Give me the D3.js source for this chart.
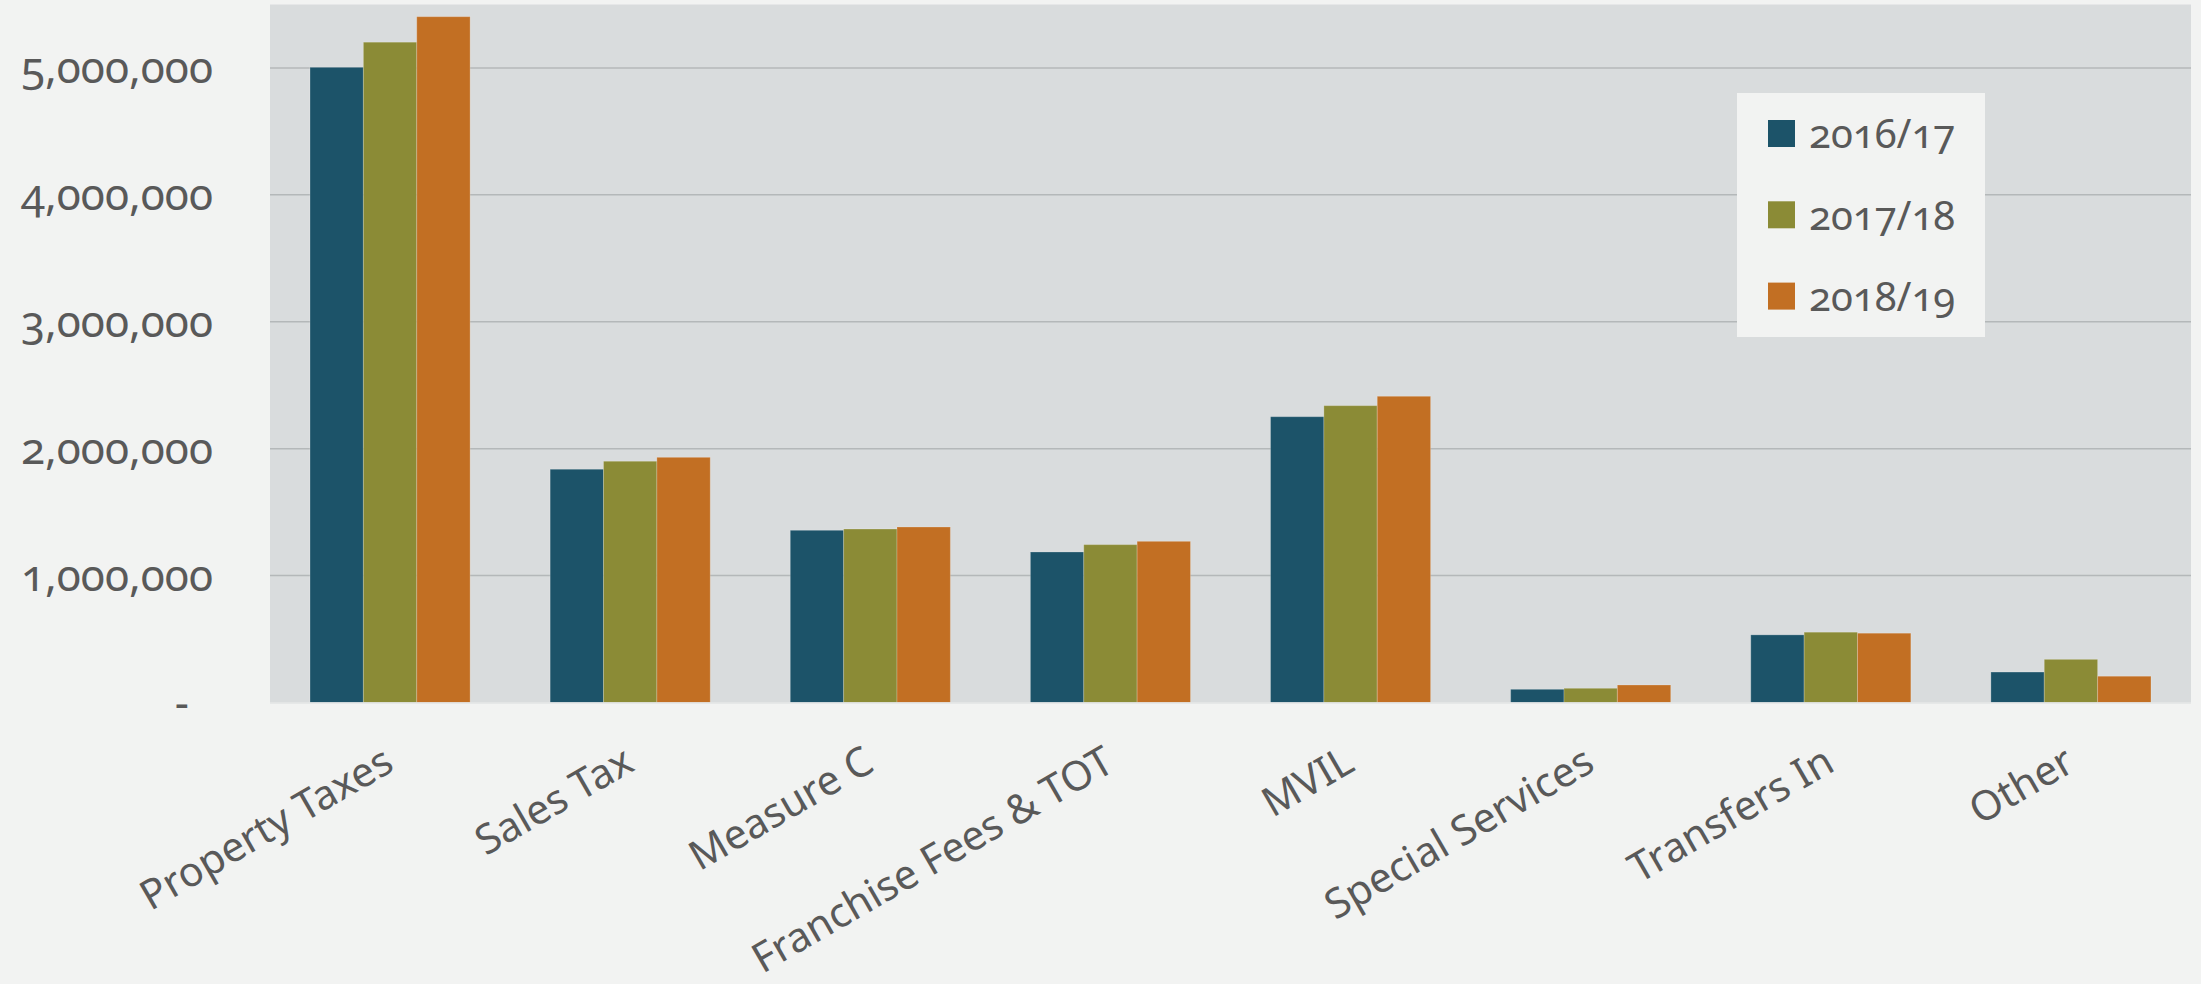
<!DOCTYPE html>
<html>
<head>
<meta charset="utf-8">
<script src="https://cdn.jsdelivr.net/npm/d3@7"></script>
<style>
  html, body { margin: 0; padding: 0; background: #f2f3f2; }
  svg { display: block; }
  text { font-family: "Noto Sans", "Open Sans", sans-serif; fill: #595959; font-variant-numeric: oldstyle-nums; }
</style>
</head>
<body>
<svg id="chart" width="2201" height="984"></svg>
<script>
// Revenue by source, three fiscal years
const categories = ["Property Taxes", "Sales Tax", "Measure C", "Franchise Fees & TOT",
                    "MVIL", "Special Services", "Transfers In", "Other"];
const seriesNames = ["2016/17", "2017/18", "2018/19"];
const fy1617 = [5005000, 1838000, 1357000, 1186000, 2252000, 104000, 533000, 240000];
const fy1718 = [5203000, 1901000, 1367000, 1244000, 2339000, 112000, 554000, 340000];
const fy1819 = [5404000, 1932000, 1383000, 1270000, 2413000, 138000, 546000, 207000];
const yTicks = [0, 1000000, 2000000, 3000000, 4000000, 5000000];
const colors = ["#1c5369", "#8b8b36", "#c26f23"];

const series = [fy1617, fy1718, fy1819];

const svg = d3.select("#chart");
const plot = { left: 270, right: 2191, top: 4.5, bottom: 702.5 };

const x = d3.scaleBand()
  .domain(categories)
  .range([plot.left, plot.right])
  .paddingInner(1 / 3)
  .paddingOuter(1 / 6);

const xSub = d3.scaleBand()
  .domain(seriesNames)
  .range([0, x.bandwidth()])
  .padding(0);

const y = d3.scaleLinear()
  .domain([0, 5500000])
  .range([plot.bottom, plot.top]);

// plot area background
svg.append("rect")
  .attr("x", plot.left)
  .attr("y", plot.top)
  .attr("width", plot.right - plot.left)
  .attr("height", plot.bottom - plot.top)
  .attr("fill", "#d9dcdd");

// horizontal gridlines
svg.append("g")
  .selectAll("line")
  .data(yTicks.filter(d => d > 0))
  .join("line")
  .attr("x1", plot.left)
  .attr("x2", plot.right)
  .attr("y1", d => y(d))
  .attr("y2", d => y(d))
  .attr("stroke", "#b4b8b9")
  .attr("stroke-width", 1.5);

// bars
const rows = categories.map((c, i) => ({
  category: c,
  values: seriesNames.map((s, k) => ({ series: s, k, value: series[k][i] }))
}));

svg.append("g")
  .selectAll("g")
  .data(rows)
  .join("g")
  .attr("transform", d => `translate(${x(d.category)},0)`)
  .selectAll("rect")
  .data(d => d.values)
  .join("rect")
  .attr("x", d => xSub(d.series))
  .attr("y", d => y(d.value))
  .attr("width", xSub.bandwidth())
  .attr("height", d => y(0) - y(d.value))
  .attr("fill", d => colors[d.k])
  .attr("stroke", "rgba(255,255,255,0.22)")
  .attr("stroke-width", 1);

// baseline
svg.append("line")
  .attr("x1", plot.left).attr("x2", plot.right)
  .attr("y1", y(0) + 0.5).attr("y2", y(0) + 0.5)
  .attr("stroke", "#e2e4e4").attr("stroke-width", 1.5);

// y axis labels (accounting style: dash for zero)
const yAxis = d3.axisLeft(y)
  .tickValues(yTicks)
  .tickSize(0)
  .tickPadding(0)
  .tickFormat(d => d === 0 ? "-\u2007" : d3.format(",")(d));

svg.append("g")
  .attr("transform", `translate(213,0)`)
  .call(yAxis)
  .call(g => g.select(".domain").remove())
  .selectAll("text")
  .attr("font-size", 44)
  .attr("dy", "0.34em")
  .style("font-family", "'Noto Sans', sans-serif")
  .attr("fill", "#595959");

// x axis labels, rotated
const xAxis = d3.axisBottom(x).tickSize(0).tickPadding(0);
svg.append("g")
  .attr("transform", `translate(0,${plot.bottom})`)
  .call(xAxis)
  .call(g => g.select(".domain").remove())
  .selectAll("text")
  .attr("font-size", 41)
  .style("font-family", "'Noto Sans', sans-serif")
  .attr("fill", "#595959")
  .attr("y", 0)
  .attr("dy", 0)
  .attr("text-anchor", "end")
  .attr("transform", "translate(6,67) rotate(-30)");

// legend
const legend = svg.append("g");
legend.append("rect")
  .attr("x", 1737).attr("y", 93)
  .attr("width", 248).attr("height", 244)
  .attr("fill", "#f2f3f2");

const item = legend.selectAll("g.item")
  .data(seriesNames)
  .join("g")
  .attr("class", "item")
  .attr("transform", (d, i) => `translate(1768,${120 + i * 81.3})`);

item.append("rect")
  .attr("width", 27).attr("height", 27)
  .attr("fill", (d, i) => colors[i]);

item.append("text")
  .attr("x", 41)
  .attr("y", 13.5)
  .attr("dy", "0.37em")
  .attr("font-size", 40)
  .text(d => d);
</script>
</body>
</html>
